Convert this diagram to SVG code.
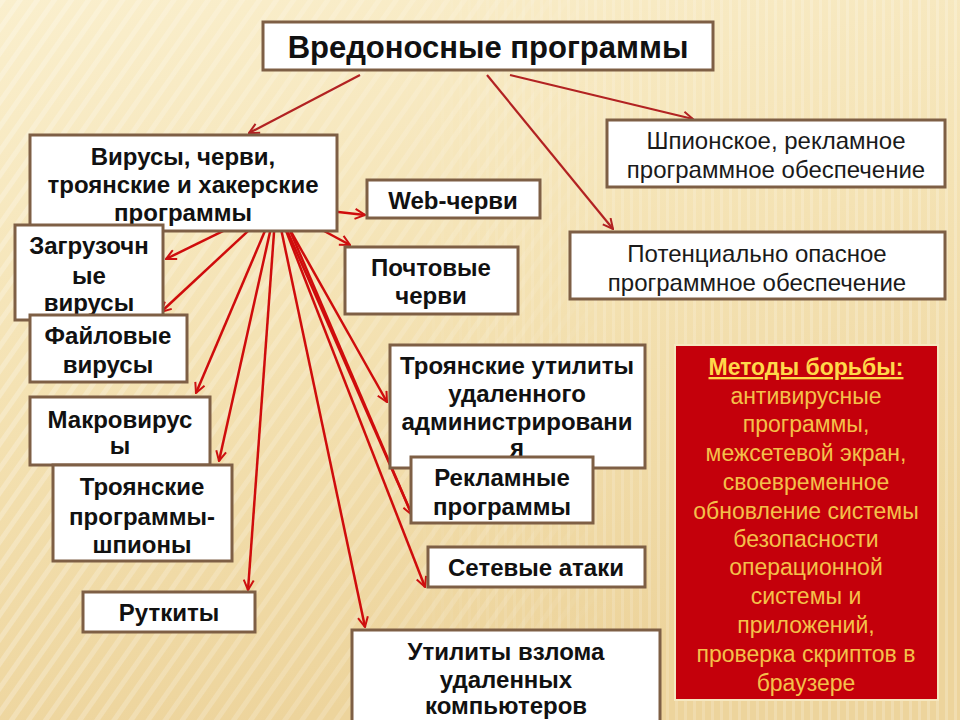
<svg xmlns="http://www.w3.org/2000/svg" width="960" height="720" viewBox="0 0 960 720">
<defs>
<linearGradient id="bg" x1="0" y1="0" x2="0.3" y2="1">
<stop offset="0" stop-color="#faefcd"/>
<stop offset="0.5" stop-color="#f4e2b3"/>
<stop offset="1" stop-color="#edd49c"/>
</linearGradient>
<pattern id="diag" width="14" height="14" patternUnits="userSpaceOnUse" patternTransform="rotate(35)">
<rect width="5" height="14" fill="#ffffff" opacity="0.35"/>
</pattern>
<pattern id="vert" width="9" height="20" patternUnits="userSpaceOnUse">
<rect width="3" height="20" fill="#ffffff" opacity="0.3"/>
</pattern>
<linearGradient id="fadeL" x1="0" y1="0" x2="1" y2="0">
<stop offset="0" stop-color="#fff" stop-opacity="0.7"/>
<stop offset="0.5" stop-color="#fff" stop-opacity="0.4"/>
<stop offset="0.65" stop-color="#fff" stop-opacity="0"/>
</linearGradient>
<linearGradient id="fadeR" x1="0" y1="0" x2="1" y2="0">
<stop offset="0.4" stop-color="#fff" stop-opacity="0"/>
<stop offset="0.6" stop-color="#fff" stop-opacity="0.5"/>
<stop offset="1" stop-color="#fff" stop-opacity="0.7"/>
</linearGradient>
<mask id="mL"><rect width="960" height="720" fill="url(#fadeL)"/></mask>
<mask id="mR"><rect width="960" height="720" fill="url(#fadeR)"/></mask>
<marker id="ah" viewBox="0 0 12 12" refX="11" refY="6" markerWidth="12" markerHeight="12" markerUnits="userSpaceOnUse" orient="auto">
<path d="M1,1 L11,6 L1,11" fill="none" stroke="#cc1010" stroke-width="2"/>
</marker>
<marker id="ah2" viewBox="0 0 12 12" refX="11" refY="6" markerWidth="12" markerHeight="12" markerUnits="userSpaceOnUse" orient="auto">
<path d="M1,1 L11,6 L1,11" fill="none" stroke="#b22222" stroke-width="2"/>
</marker>
</defs>
<style>
.box{fill:#ffffff;stroke:#7e5f45;stroke-width:3}
.b{font-family:"Liberation Sans",Arial,sans-serif;font-weight:bold;font-size:24px;fill:#111111;text-anchor:middle}
.r{font-family:"Liberation Sans",Arial,sans-serif;font-size:24px;fill:#1a1a1a;text-anchor:middle}
.m{font-family:"Liberation Sans",Arial,sans-serif;font-size:23px;fill:#f4c04a;text-anchor:middle}
.fan{stroke:#cf0c0c;stroke-width:2.5;fill:none;marker-end:url(#ah)}
.top{stroke:#b22222;stroke-width:2.2;fill:none;marker-end:url(#ah2)}
</style>
<rect width="960" height="720" fill="url(#bg)"/>
<rect width="960" height="720" fill="url(#diag)" mask="url(#mL)"/>
<rect width="960" height="720" fill="url(#vert)" mask="url(#mR)"/>

<g id="connectors">
<line class="top" x1="360" y1="75" x2="249" y2="133"/>
<line class="top" x1="510" y1="75" x2="693" y2="119"/>
<line class="top" x1="487" y1="75" x2="613" y2="229"/>
<line class="fan" x1="276" y1="205" x2="365" y2="215"/>
<line class="fan" x1="276" y1="205" x2="350" y2="245"/>
<line class="fan" x1="276" y1="205" x2="166" y2="259"/>
<line class="fan" x1="276" y1="205" x2="161" y2="312"/>
<line class="fan" x1="276" y1="205" x2="196" y2="393"/>
<line class="fan" x1="276" y1="205" x2="219" y2="461"/>
<line class="fan" x1="276" y1="205" x2="248" y2="590"/>
<line class="fan" x1="276" y1="205" x2="387" y2="402"/>
<line class="fan" x1="276" y1="205" x2="412" y2="515"/>
<line class="fan" x1="279" y1="205" x2="412" y2="515" style="marker-end:none"/>
<line class="fan" x1="276" y1="205" x2="425" y2="587"/>
<line class="fan" x1="276" y1="205" x2="365" y2="627"/>
</g>

<g id="title">
<rect class="box" x="263" y="22" width="450" height="48"/>
<text class="b" x="488" y="58" style="font-size:31px">Вредоносные программы</text>
</g>

<g id="viruses">
<rect class="box" x="30" y="135" width="307" height="96"/>
<text class="b" x="183" y="165">Вирусы, черви,</text>
<text class="b" x="183" y="193">троянские и хакерские</text>
<text class="b" x="183" y="221">программы</text>
</g>

<g id="spy">
<rect class="box" x="607" y="120" width="338" height="67"/>
<text class="r" x="776" y="149">Шпионское, рекламное</text>
<text class="r" x="776" y="178">программное обеспечение</text>
</g>

<g id="potential">
<rect class="box" x="570" y="232" width="375" height="67"/>
<text class="r" x="757" y="262">Потенциально опасное</text>
<text class="r" x="757" y="291">программное обеспечение</text>
</g>

<g id="web">
<rect class="box" x="367" y="180" width="173" height="38"/>
<text class="b" x="453" y="209">Web-черви</text>
</g>

<g id="mail">
<rect class="box" x="345" y="247" width="173" height="67"/>
<text class="b" x="431" y="276">Почтовые</text>
<text class="b" x="431" y="304">черви</text>
</g>

<g id="boot">
<rect class="box" x="15" y="225" width="148" height="95"/>
<text class="b" x="89" y="254">Загрузочн</text>
<text class="b" x="89" y="284">ые</text>
<text class="b" x="89" y="311">вирусы</text>
</g>

<g id="file">
<rect class="box" x="30" y="315" width="157" height="67"/>
<text class="b" x="108" y="344">Файловые</text>
<text class="b" x="108" y="373">вирусы</text>
</g>

<g id="macro">
<rect class="box" x="30" y="397" width="180" height="68"/>
<text class="b" x="120" y="428">Макровирус</text>
<text class="b" x="120" y="454">ы</text>
</g>

<g id="trojanspy">
<rect class="box" x="53" y="465" width="179" height="96"/>
<text class="b" x="142" y="495">Троянские</text>
<text class="b" x="142" y="525">программы-</text>
<text class="b" x="142" y="553">шпионы</text>
</g>

<g id="rootkits">
<rect class="box" x="83" y="592" width="172" height="40"/>
<text class="b" x="169" y="621">Руткиты</text>
</g>

<g id="remoteadmin">
<rect class="box" x="390" y="345" width="255" height="123"/>
<text class="b" x="517" y="374">Троянские утилиты</text>
<text class="b" x="517" y="402">удаленного</text>
<text class="b" x="517" y="430">администрировани</text>
<text class="b" x="517" y="456">я</text>
</g>

<g id="adware">
<rect class="box" x="411" y="457" width="182" height="66"/>
<text class="b" x="502" y="486">Рекламные</text>
<text class="b" x="502" y="515">программы</text>
</g>

<g id="netattacks">
<rect class="box" x="428" y="547" width="217" height="40"/>
<text class="b" x="536" y="576">Сетевые атаки</text>
</g>

<g id="hacktools">
<rect class="box" x="352" y="630" width="308" height="100"/>
<text class="b" x="506" y="660">Утилиты взлома</text>
<text class="b" x="506" y="688">удаленных</text>
<text class="b" x="506" y="714">компьютеров</text>
</g>

<g id="methods">
<rect x="675" y="345" width="263" height="355" fill="#c4000b" stroke="#f6e8c0" stroke-width="2"/>
<text class="m" x="806" y="375" style="font-weight:bold;fill:#ffd84a;text-decoration:underline">Методы борьбы:</text>
<text class="m" x="806" y="404">антивирусные</text>
<text class="m" x="806" y="432">программы,</text>
<text class="m" x="806" y="461">межсетевой экран,</text>
<text class="m" x="806" y="490">своевременное</text>
<text class="m" x="806" y="519">обновление системы</text>
<text class="m" x="806" y="547">безопасности</text>
<text class="m" x="806" y="575">операционной</text>
<text class="m" x="806" y="604">системы и</text>
<text class="m" x="806" y="633">приложений,</text>
<text class="m" x="806" y="662">проверка скриптов в</text>
<text class="m" x="806" y="691">браузере</text>
</g>
</svg>
